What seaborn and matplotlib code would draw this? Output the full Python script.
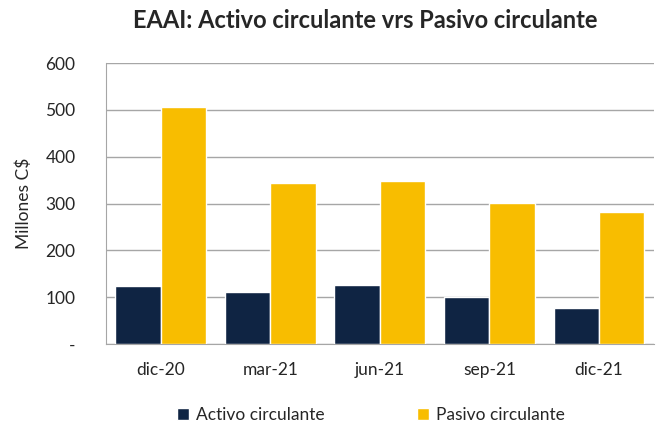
import pandas as pd
import seaborn as sns
import matplotlib.pyplot as plt

periods = ["dic-20", "mar-21", "jun-21", "sep-21", "dic-21"]
activo = [124, 111, 126, 100, 77]
pasivo = [506, 344, 348, 301, 282]
y_ticks = [0, 100, 200, 300, 400, 500, 600]
y_labels = ["-", "100", "200", "300", "400", "500", "600"]

df = pd.DataFrame({
    "periodo": periods * 2,
    "valor": activo + pasivo,
    "serie": ["Activo circulante"] * 5 + ["Pasivo circulante"] * 5,
})

sns.set_style("white")
plt.rcParams["font.family"] = ["Lato", "DejaVu Sans"]

fig = plt.figure(figsize=(6.63, 4.26), dpi=100)
ax = fig.add_axes([0.160, 0.1925, 0.826, 0.6595])
sns.barplot(
    data=df, x="periodo", y="valor", hue="serie",
    palette=["#0f2443", "#f8bd00"], width=0.83, saturation=1,
    ax=ax, zorder=3,
)
ax.set_ylim(0, 600)
ax.set_xlim(-0.5, 4.5)
ax.set_yticks(y_ticks)
ax.set_yticklabels(y_labels)
ax.yaxis.grid(True, color="#a6a6a6", linewidth=1, zorder=0)
ax.set_axisbelow(True)

# tick marks at category boundaries, labels centered
ax.set_xticks([i - 0.5 for i in range(6)], minor=False)
ax.set_xticklabels([""] * 6)
ax.set_xticks(range(5), minor=True)
ax.set_xticklabels(periods, minor=True)
ax.tick_params(axis="x", which="major", length=5, color="#a6a6a6", direction="out")
ax.tick_params(axis="x", which="minor", length=0, pad=13, labelsize=12.5)
ax.tick_params(axis="y", length=7, color="#a6a6a6", direction="out", labelsize=12.5, pad=15)

for s in ["top", "right"]:
    ax.spines[s].set_visible(False)
for s in ["left", "bottom"]:
    ax.spines[s].set_color("#a6a6a6")

ax.set_xlabel("")
ax.set_ylabel("Millones C$", fontsize=12.5, labelpad=10)
fig.suptitle("EAAI: Activo circulante vrs Pasivo circulante",
             fontsize=17, fontweight="bold", x=0.551, y=0.978)

ax.legend(loc="upper center", bbox_to_anchor=(0.484, -0.17), ncol=2,
          frameon=False, fontsize=12.5, handlelength=0.7, handleheight=0.7,
          handletextpad=0.4, columnspacing=5.3)

fig.savefig("out.png", dpi=100)
